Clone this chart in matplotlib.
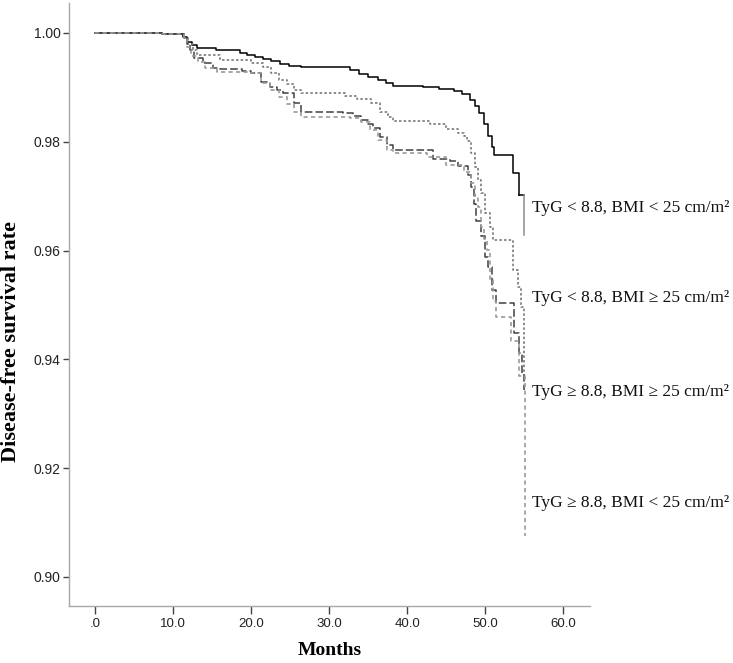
import matplotlib
matplotlib.use("Agg")
import matplotlib.pyplot as plt

# Kaplan-Meier step curves (months, survival)
t_low_low = [0, 8.5, 11.2, 11.8, 12.4, 13.0, 15.5, 18.6, 19.5, 20.5, 21.5, 22.5, 23.7, 24.8,
             26.3, 32.7, 33.8, 35.0, 36.2, 37.2, 38.2, 42.0, 44.0, 46.0, 47.0, 48.0, 48.6,
             49.2, 49.8, 50.3, 50.8, 51.1, 53.5, 54.3, 55.0]
s_low_low = [1.0, 0.9998, 0.9993, 0.9984, 0.9977, 0.9972, 0.9969, 0.9964, 0.9960, 0.9956,
             0.9952, 0.9948, 0.9943, 0.9940, 0.9938, 0.9932, 0.9925, 0.9919, 0.9913, 0.9908,
             0.9903, 0.9900, 0.9897, 0.9893, 0.9887, 0.9877, 0.9866, 0.9853, 0.9832, 0.9811,
             0.9790, 0.9775, 0.9743, 0.9702, 0.9628]

t_low_high = [0, 8.5, 11.3, 11.9, 12.5, 13.0, 16.0, 20.0, 21.5, 22.5, 23.5, 24.6, 25.5, 26.3,
              32.0, 33.5, 35.3, 36.5, 37.5, 38.2, 42.9, 45.0, 46.5, 47.2, 47.6, 48.1, 48.6,
              49.0, 49.4, 50.0, 50.6, 51.0, 53.5, 54.2, 54.6, 55.0]
s_low_high = [1.0, 0.9998, 0.9990, 0.9979, 0.9969, 0.9959, 0.9951, 0.9944, 0.9938, 0.9927,
              0.9914, 0.9906, 0.9895, 0.9889, 0.9885, 0.9878, 0.9871, 0.9855, 0.9845, 0.9838,
              0.9832, 0.9824, 0.9817, 0.9811, 0.9801, 0.9780, 0.9753, 0.9730, 0.9706, 0.9669,
              0.9643, 0.9619, 0.9564, 0.9533, 0.9496, 0.9375]

t_high_high = [0, 8.5, 11.3, 11.7, 12.1, 12.6, 13.8, 15.1, 16.0, 18.8, 19.9, 21.2, 22.4, 23.3,
               24.1, 25.4, 26.3, 31.8, 33.0, 34.0, 35.0, 35.6, 36.5, 37.4, 38.2, 43.3, 45.5,
               46.5, 47.7, 48.2, 48.5, 48.8, 49.4, 50.0, 50.3, 50.8, 51.3, 53.6, 54.3, 54.7, 55.0]
s_high_high = [1.0, 0.9998, 0.9990, 0.9979, 0.9969, 0.9954, 0.9944, 0.9936, 0.9934, 0.9930,
               0.9927, 0.9910, 0.9900, 0.9895, 0.9890, 0.9871, 0.9855, 0.9853, 0.9848, 0.9840,
               0.9832, 0.9825, 0.9809, 0.9794, 0.9785, 0.9769, 0.9764, 0.9756, 0.9738, 0.9717,
               0.9685, 0.9654, 0.9627, 0.9589, 0.9570, 0.9528, 0.9504, 0.9449, 0.9412, 0.9375,
               0.9344]

t_high_low = [0, 8.5, 11.3, 11.8, 12.3, 13.1, 14.0, 15.6, 19.9, 21.2, 22.4, 23.5, 24.6, 25.5,
              26.3, 32.7, 34.0, 35.2, 36.2, 37.4, 38.2, 42.5, 45.0, 47.2, 48.1, 48.6, 49.0,
              49.4, 49.8, 50.2, 50.6, 51.0, 51.3, 53.3, 54.3, 55.1]
s_high_low = [1.0, 0.9998, 0.9990, 0.9974, 0.9958, 0.9946, 0.9936, 0.9929, 0.9927, 0.9908,
              0.9895, 0.9882, 0.9869, 0.9855, 0.9846, 0.9843, 0.9836, 0.9822, 0.9804, 0.9785,
              0.9780, 0.9772, 0.9758, 0.9745, 0.9724, 0.9701, 0.9680, 0.9643, 0.9622, 0.9601,
              0.9546, 0.9507, 0.9478, 0.9433, 0.9370, 0.9076]

group_labels = ["TyG < 8.8, BMI < 25 cm/m\u00b2",
                "TyG < 8.8, BMI \u2265 25 cm/m\u00b2",
                "TyG \u2265 8.8, BMI \u2265 25 cm/m\u00b2",
                "TyG \u2265 8.8, BMI < 25 cm/m\u00b2"]
label_y = [0.9678, 0.9513, 0.9340, 0.9136]

x_ticks = [0, 10, 20, 30, 40, 50, 60]
x_ticklabels = [".0", "10.0", "20.0", "30.0", "40.0", "50.0", "60.0"]
y_ticks = [0.90, 0.92, 0.94, 0.96, 0.98, 1.00]
y_ticklabels = ["0.90", "0.92", "0.94", "0.96", "0.98", "1.00"]

fig = plt.figure(figsize=(7.33, 6.63), dpi=100)
ax = fig.add_axes([0.0941, 0.0860, 0.7108, 0.9095])

# solid curve: last drop is drawn lighter, as in the source figure
ax.step(t_low_low[:-1], s_low_low[:-1], where="post", color="black", lw=1.1)
ax.plot([t_low_low[-2], t_low_low[-1]], [s_low_low[-2], s_low_low[-2]], color="black", lw=1.1)
ax.plot([t_low_low[-1], t_low_low[-1]], [s_low_low[-2], s_low_low[-1]], color="#8c8c8c", lw=1.1)

ax.step(t_low_high, s_low_high, where="post", color="#7a7a7a", lw=1.2,
        linestyle=(0, (1.5, 1.3)))
ax.step(t_high_high, s_high_high, where="post", color="#404040", lw=1.1,
        linestyle=(0, (5, 2)))
ax.step(t_high_low, s_high_low, where="post", color="#9a9a9a", lw=1.2,
        linestyle=(0, (2.5, 2)))

for text, y in zip(group_labels, label_y):
    ax.text(56.0, y, text, fontsize=12.5, va="center", ha="left", color="#111111",
            family=["Liberation Serif", "DejaVu Serif"], clip_on=False)

ax.set_xlim(-3.38, 63.4)
ax.set_ylim(0.89467, 1.00551)
ax.set_xticks(x_ticks)
ax.set_xticklabels(x_ticklabels)
ax.set_yticks(y_ticks)
ax.set_yticklabels(y_ticklabels)

for side in ("top", "right"):
    ax.spines[side].set_visible(False)
for side in ("left", "bottom"):
    ax.spines[side].set_color("#a8a8a8")
    ax.spines[side].set_linewidth(1.0)

ax.tick_params(axis="y", length=4.5, width=1.0, color="#444444", pad=1.5,
               labelsize=10, labelcolor="#222222")
ax.tick_params(axis="x", length=6, width=1.0, color="#444444", pad=3,
               labelsize=9.5, labelcolor="#222222")
for lab in ax.get_xticklabels() + ax.get_yticklabels():
    lab.set_family("Liberation Sans")

ax.set_xlabel("Months", fontsize=14, fontweight="bold", family="Liberation Serif", labelpad=8)
ax.set_ylabel("Disease-free survival rate", fontsize=16, fontweight="bold",
              family="Liberation Serif")
ax.yaxis.set_label_coords(-0.092, 0.438)

fig.savefig("out.png", dpi=100)
